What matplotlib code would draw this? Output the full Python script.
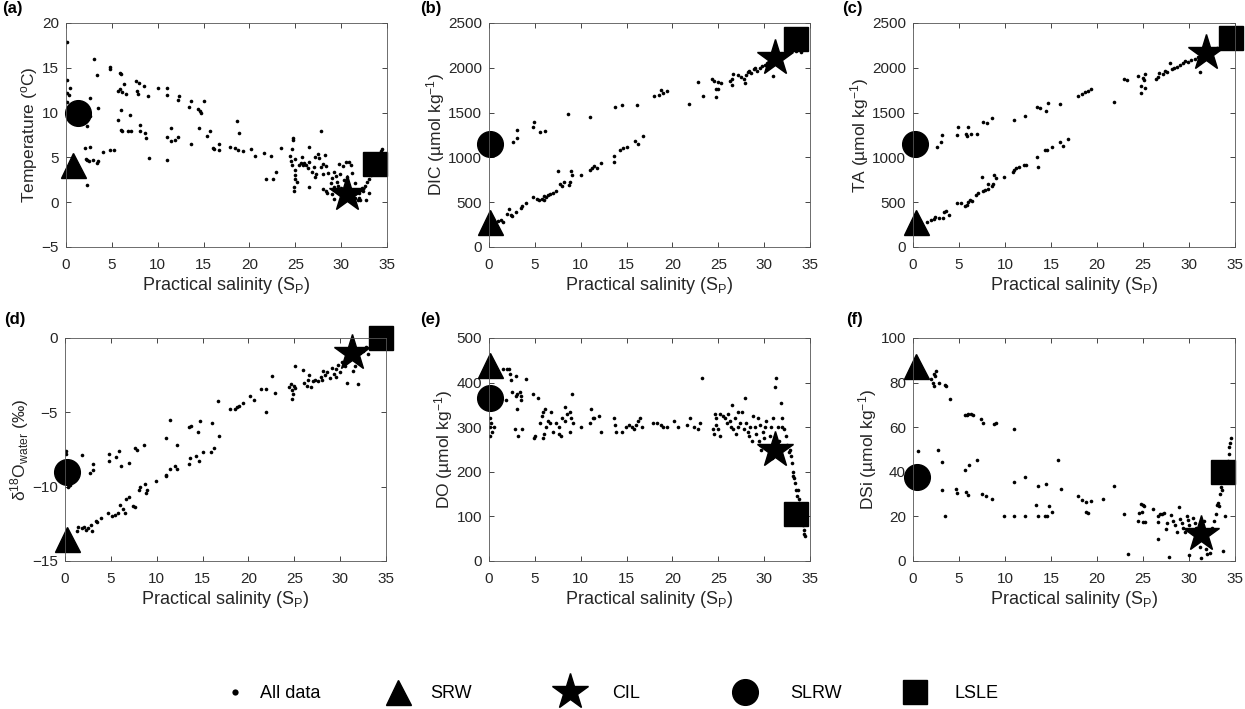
import numpy as np
import matplotlib
matplotlib.use("Agg")
import matplotlib.pyplot as plt
from matplotlib.lines import Line2D

plt.rcParams['font.family'] = ['Liberation Sans', 'DejaVu Sans']
plt.rcParams['mathtext.fontset'] = 'custom'
plt.rcParams['mathtext.rm'] = 'Liberation Sans'
plt.rcParams['mathtext.it'] = 'Liberation Sans:italic'

# ---------------- data ----------------
# (a) temperature
temp_s = [0.1, 0.1, 0.1, 0.1, 0.2, 0.1, 0.1, 0.4, 0.3, 2.6, 3.0, 3.4, 3.5, 2.6, 2.3,
          2.1, 2.6, 2.3, 2.5, 2.2, 2.9, 3.5, 3.4, 2.3, 4.0, 4.8, 5.2, 4.8, 4.8,
          5.7, 5.9, 6.0, 5.9, 6.1, 6.3, 6.5, 5.7, 6.0, 6.0, 6.1, 6.8, 7.1, 7.0,
          7.6, 7.7, 7.8, 8.0, 8.5, 8.9, 8.1, 8.1, 8.6, 8.7, 9.0,
          10.0, 11.0, 11.0, 11.0, 11.0, 11.4, 11.5, 11.9, 12.2, 12.3, 12.2,
          13.4, 13.6, 13.6, 14.4, 14.6, 14.7, 15.0, 14.5, 15.4, 15.7,
          16.0, 16.1, 16.7, 16.7, 17.9, 18.4, 18.6, 18.9, 18.7, 19.3, 20.2, 20.6,
          21.6, 22.3, 21.8, 22.6, 22.9, 23.4,
          24.4, 24.5, 24.7, 24.8, 24.6, 24.6, 25.0, 25.0, 25.0, 24.9, 24.9, 25.0, 25.2,
          25.4, 25.6, 25.8, 26.0, 26.2, 26.5, 25.7, 26.5, 26.4, 26.5, 26.8, 27.0, 27.1,
          27.2, 27.3, 27.5, 27.6, 27.8, 28.0, 27.8, 28.2, 28.0, 28.3, 28.3, 28.0, 28.5,
          28.6, 28.9, 29.0, 29.2, 29.2, 29.4, 29.6, 29.8, 29.9, 29.2, 29.0, 29.5, 29.7,
          30.0, 30.2, 30.5, 30.9, 31.1, 30.3, 30.6, 31.2, 31.5, 31.5, 31.8, 31.7, 32.0,
          32.3, 32.0, 32.4, 32.6, 32.8, 33.0, 33.3, 33.5, 33.8, 34.1, 34.4, 34.5, 33.0,
          32.7, 32.1]
temp_v = [17.9, 13.6, 12.2, 11.2, 10.5, 10.0, 9.8, 12.7, 12.0, 11.6, 16.0, 14.2, 10.5, 9.6, 8.5,
          6.0, 6.2, 4.7, 4.6, 4.8, 4.7, 4.6, 4.4, 1.9, 5.6, 5.8, 5.8, 14.9, 15.1,
          12.4, 14.4, 14.3, 12.6, 12.3, 13.2, 12.1, 9.2, 10.3, 8.1, 8.0, 8.0, 7.9, 9.7,
          13.5, 12.4, 12.1, 13.3, 13.0, 11.9, 8.6, 7.9, 7.7, 7.2, 4.9,
          12.8, 12.7, 12.0, 7.3, 4.7, 8.3, 6.8, 6.9, 7.3, 11.8, 11.4,
          10.6, 11.3, 6.5, 10.4, 10.2, 10.0, 11.3, 8.3, 7.4, 7.9,
          6.1, 5.9, 6.5, 5.8, 6.2, 6.1, 9.1, 7.7, 5.8, 5.7, 5.9, 5.2,
          5.5, 5.2, 2.6, 2.6, 3.4, 6.0,
          5.2, 4.6, 7.2, 6.9, 5.9, 4.1, 4.8, 3.6, 2.6, 1.7, 1.3, 3.0, 2.2,
          4.2, 4.4, 4.2, 4.4, 4.2, 4.5, 5.1, 6.2, 3.8, 1.7, 3.4, 3.9, 5.0,
          2.8, 3.2, 5.4, 4.9, 3.9, 4.3, 7.9, 5.3, 3.2, 4.0, 1.2, 1.5, 1.0,
          3.3, 2.1, 2.7, 3.4, 1.7, 2.9, 2.3, 4.3, 3.1, 0.4, 0.9, 1.4, 1.8,
          1.6, 4.0, 4.5, 4.5, 4.2, 2.5, 2.8, 3.3, 2.1, 0.5, 0.3, 1.2, 1.0,
          1.6, 0.5, 1.3, 1.8, 2.2, 2.6, 3.0, 3.8, 4.5, 5.2, 5.7, 5.9, 1.0,
          0.3, 0.2]

# (b) DIC
dic_s = [0.5, 1.0, 1.3, 1.5, 2.0, 2.2, 2.4, 2.5, 2.9, 3.5, 3.6, 4.0, 4.8, 5.2, 5.5, 5.8,
         6.0, 6.0, 6.2, 6.4, 6.7, 7.0, 7.3, 7.5, 7.7, 8.0, 8.2, 8.7, 8.8, 8.9, 9.0, 10.0,
         11.0, 11.2, 11.5, 11.8, 12.2, 13.6, 13.6, 14.3, 14.6, 15.0, 15.9, 16.2, 16.8,
         2.6, 3.0, 3.1, 4.8, 4.9, 5.6, 6.1, 8.6, 11.0, 13.7, 14.5, 16.1, 18.0, 18.5, 18.8,
         19.0, 19.4, 21.8, 22.8, 23.3, 24.3, 24.5, 24.7, 24.8, 25.0, 25.0, 25.3, 26.3, 26.5,
         26.6, 26.5, 27.2, 27.5, 27.8, 28.0, 27.9, 28.2, 28.4, 28.6, 28.9, 29.2, 29.5, 29.8,
         30.1, 30.3, 30.6, 31.0, 31.5, 32.0, 32.5, 33.0, 33.5, 34.0, 34.3, 29.0, 30.5]
dic_v = [280, 290, 300, 280, 370, 420, 360, 350, 390, 430, 460, 490, 560, 540, 530, 540,
         530, 570, 560, 580, 590, 600, 630, 850, 700, 680, 720, 690, 720, 850, 800, 800,
         860, 880, 900, 880, 940, 1020, 950, 1080, 1100, 1120, 1180, 1150, 1240,
         1170, 1220, 1310, 1340, 1400, 1280, 1290, 1480, 1450, 1560, 1590, 1590, 1680, 1700, 1750,
         1720, 1740, 1600, 1840, 1690, 1880, 1850, 1760, 1670, 1760, 1840, 1830, 1850, 1810,
         1930, 1870, 1920, 1900, 1870, 1920, 1830, 1950, 1960, 1940, 1990, 1960, 2000, 2020,
         2030, 2050, 2060, 1910, 2100, 2120, 2160, 2200, 2190, 2180, 2240, 2000, 2010]

# (c) TA
ta_s = [1.5, 2.0, 2.3, 2.4, 2.8, 3.3, 3.4, 3.6, 3.9, 4.8, 5.2, 5.7, 5.9, 6.0, 6.2, 6.4,
        6.8, 7.1, 7.5, 7.6, 7.8, 8.1, 8.2, 8.6, 8.7, 8.8, 9.0, 9.9, 10.9, 11.0, 11.2, 11.5,
        12.1, 12.3, 13.5, 13.6, 14.4, 14.6, 15.1, 16.0, 16.3, 16.8,
        2.6, 3.0, 3.1, 4.8, 4.9, 5.8, 5.9, 6.0, 6.3, 7.0, 7.6, 8.0, 8.6, 11.0, 12.2, 13.5,
        13.8, 14.5, 14.7, 16.0, 17.9, 18.4, 18.7, 19.0, 19.4, 21.9, 22.9, 23.3, 24.5, 24.8,
        24.8, 25.0, 25.1, 25.2, 25.2, 26.4, 26.6, 26.7, 27.2, 27.4, 27.6, 27.9, 28.1, 28.4,
        28.7, 29.0, 29.3, 29.6, 29.9, 30.2, 30.6, 31.0, 31.2, 31.5, 32.5, 33.0, 33.7]
ta_v = [280, 300, 310, 340, 320, 320, 390, 400, 360, 490, 490, 460, 470, 500, 520, 510,
        580, 600, 780, 630, 640, 700, 650, 680, 700, 800, 770, 780, 840, 860, 880, 890,
        920, 920, 1010, 890, 1080, 1080, 1120, 1170, 1130, 1200,
        1120, 1170, 1250, 1250, 1340, 1260, 1240, 1340, 1260, 1260, 1390, 1380, 1440, 1420, 1460, 1560,
        1550, 1520, 1610, 1600, 1690, 1710, 1730, 1740, 1760, 1620, 1880, 1860, 1910, 1800,
        1720, 1890, 1860, 1930, 1780, 1870, 1900, 1940, 1930, 1960, 1950, 2050, 1990, 2000,
        2010, 2030, 2050, 2080, 2060, 2090, 2100, 2120, 1950, 2150, 2190, 2220, 2250]

# (d) d18O
d18o_s = [0.1, 0.1, 0.5, 0.3,
          1.9, 2.7, 3.0, 3.1, 4.8, 4.8, 5.6, 5.9, 6.1, 7.0, 7.6, 7.9, 8.6, 11.0, 11.4, 12.2,
          13.5, 13.7, 14.5, 14.7, 16.0, 16.7, 16.8, 18.0, 18.5, 18.8, 19.0, 19.4, 20.2, 20.6,
          21.4, 21.9, 21.9, 22.6, 22.9, 24.4, 24.6, 24.7, 24.8, 24.9, 25.0, 25.1, 25.1, 25.9,
          26.1, 26.4, 26.5, 26.6, 26.8, 27.0, 27.3, 27.6, 27.9, 28.1, 28.3, 28.6, 28.9, 29.1,
          29.3, 29.5, 29.8, 30.0, 30.2, 30.5, 30.8, 30.9, 31.4, 31.6, 31.8, 32.0, 32.2, 32.5,
          33.0, 32.8, 33.4, 33.8, 34.2, 29.5, 28.0,
          1.3, 1.4, 1.9, 2.1, 2.3, 2.5, 2.8, 2.9, 3.4, 3.5, 3.9, 4.7, 5.1, 5.5, 5.8, 6.0,
          6.3, 6.5, 6.7, 7.0, 7.4, 7.6, 8.1, 8.2, 8.7, 8.8, 8.9, 9.9, 11.0, 11.0, 11.5, 12.0,
          12.2, 13.5, 13.6, 14.3, 14.6, 15.1, 15.9, 16.3]
d18o_v = [-7.6, -7.8, -9.9, -10.0,
          -7.9, -9.1, -8.9, -8.5, -8.3, -7.8, -8.0, -7.6, -8.6, -8.4, -7.4, -7.5, -7.2, -6.7, -5.5, -7.2,
          -6.0, -5.95, -6.3, -5.55, -5.7, -4.25, -6.6, -4.8, -4.8, -4.65, -4.55, -4.35, -3.9, -4.2,
          -3.4, -4.95, -3.45, -2.55, -3.7, -3.3, -3.1, -3.5, -4.1, -3.8, -3.2, -1.9, -3.35, -2.15,
          -3.0, -3.2, -2.8, -2.5, -3.3, -2.9, -2.8, -2.9, -2.6, -2.2, -2.5, -2.3, -2.7, -2.0,
          -2.4, -2.1, -1.8, -2.3, -1.6, -1.9, -3.05, -1.5, -2.2, -1.9, -1.3, -3.1, -1.0, -0.9,
          -1.1, -0.6, -0.4, -0.3, -0.2, -2.6, -2.8,
          -13.0, -12.7, -12.8, -12.7, -12.9, -12.8, -12.6, -13.0, -12.3, -12.4, -12.1, -11.8, -12.0, -11.9, -11.8, -11.2,
          -11.5, -11.8, -10.8, -10.7, -11.3, -11.4, -10.2, -10.0, -9.8, -10.4, -10.2, -9.6, -9.2, -9.3, -8.8, -8.6,
          -8.8, -8.5, -8.1, -7.95, -8.25, -7.7, -7.7, -7.4]

# (e) DO
do_s = [0.1, 0.1, 0.2, 0.1, 0.3, 0.5, 1.5, 1.8, 2.0, 2.2, 2.3, 2.4, 2.5, 2.9, 2.9, 2.8,
        3.0, 3.1, 3.2, 3.4, 3.5, 3.5, 3.6, 4.0, 4.8, 4.9, 5.0, 5.3, 5.6, 5.9, 5.8, 5.9,
        6.0, 6.1, 6.2, 6.4, 6.6, 6.8, 7.0, 7.3, 7.6, 7.6, 7.9, 8.0, 8.3, 8.3, 8.5, 8.8,
        8.9, 8.8, 9.1, 9.2, 10.0, 11.0, 11.1, 11.3, 11.5, 12.0, 12.2, 13.6, 13.7, 13.8,
        14.5, 14.9, 15.3, 15.6, 15.8, 16.0, 16.2, 16.5, 16.7, 17.9, 18.3, 18.7, 19.0, 19.4,
        20.2, 20.6, 21.6, 21.9, 22.3, 22.8, 23.2, 23.0,
        24.4, 24.5, 24.6, 24.7, 24.8, 25.0, 25.2, 25.2, 25.5, 25.7, 25.9, 26.1, 26.3, 26.5,
        26.4, 26.6, 26.8, 26.9, 27.1, 27.2, 27.4, 27.6, 27.8, 27.9, 28.0, 28.2, 28.3, 28.5,
        28.7, 28.8, 29.0, 29.1, 29.3, 29.5, 29.4, 29.6, 29.7, 29.9, 30.0, 30.1, 30.2, 30.4,
        30.5, 30.6, 30.8, 30.9, 31.0, 31.2, 31.3, 31.5, 31.6, 31.8, 31.9, 32.0, 32.2, 32.4,
        32.5, 32.7, 32.9, 33.0, 33.1, 33.2, 33.4, 33.5, 33.6, 33.8, 33.9, 34.0, 34.1, 34.2,
        34.3, 34.4, 34.5, 33.3, 33.7, 32.8, 33.8]
do_v = [280, 300, 310, 320, 290, 300, 430, 360, 430, 430, 420, 405, 380, 415, 370, 295,
        375, 340, 280, 380, 360, 370, 295, 408, 375, 275, 280, 365, 310, 335, 325, 275,
        285, 340, 300, 315, 310, 335, 290, 310, 300, 285, 280, 320, 345, 315, 330, 335,
        320, 290, 375, 310, 300, 310, 340, 320, 320, 325, 290, 320, 305, 290,
        290, 300, 305, 300, 295, 305, 315, 320, 300, 310, 310, 305, 300, 300,
        315, 300, 305, 320, 300, 295, 410, 310,
        295, 285, 330, 320, 305, 295, 280, 330, 325, 320, 310, 330, 315, 350,
        300, 295, 320, 285, 300, 335, 310, 335, 295, 365, 310, 290, 280, 300,
        270, 325, 300, 285, 320, 305, 270, 260, 250, 290, 275, 300, 315, 255,
        240, 280, 300, 230, 320, 390, 410, 300, 270, 355, 300, 320, 295, 280,
        260, 245, 235, 220, 200, 190, 175, 160, 145, 130, 115, 100, 90, 80,
        70, 60, 55, 185, 160, 250, 140]

# (f) DSi
dsi_s = [0.5, 2.0, 2.2, 2.3, 2.3, 2.5, 2.4, 2.8, 3.5, 3.6, 4.0, 2.7, 3.1, 3.1, 3.5, 4.7,
         4.8, 5.6, 5.7, 5.9, 6.0, 6.3, 6.5, 5.8, 6.0, 6.1, 7.0, 7.4, 7.6, 7.5, 7.9, 8.6,
         8.8, 9.0, 9.9, 11.0, 11.0, 11.0, 12.2, 12.2, 13.4, 13.6, 13.6, 14.4, 14.6, 14.5,
         14.8, 15.1, 15.8, 16.1, 17.9, 18.4, 18.8, 18.8, 19.0, 19.4, 20.6, 21.8, 22.9, 23.4,
         24.5, 24.6, 24.8, 24.9, 25.0, 25.0, 25.2, 25.1, 26.1, 26.6, 26.6, 26.6, 26.9, 27.1,
         27.3, 27.6, 27.5, 27.8, 28.0, 28.3, 28.5, 28.7, 28.9, 29.0, 29.2, 29.4, 29.6, 29.8,
         29.9, 30.0, 30.0, 30.2, 30.4, 30.6, 30.8, 31.0, 31.2, 31.3, 31.6, 31.8, 32.0, 32.3,
         32.5, 32.7, 32.9, 33.0, 33.2, 33.4, 33.5, 33.6, 33.8, 33.9, 34.0, 34.2, 34.3, 34.4,
         34.5, 34.6, 33.7, 33.3]
dsi_v = [49.5, 81.5, 80, 78.5, 84, 85, 83, 80, 79, 78.5, 72.5, 50, 44.5, 32, 20, 32.5,
         30.5, 41, 65.5, 65.5, 66, 66, 65.5, 31, 29.5, 43, 45.5, 63.5, 62, 30, 29, 28,
         61.5, 62, 20, 20, 35.5, 59, 20, 37.5, 25, 20, 33.5, 20, 20, 34.5,
         24.5, 22, 45.5, 32.5, 29, 27.5, 26.5, 22, 21.5, 27, 28, 33.5, 21, 3,
         18, 21.5, 25.5, 22, 25, 17.5, 17.5, 24.5, 23.5, 20, 17.5, 10, 21, 21,
         21.5, 17, 14.5, 2, 20.5, 18, 16, 13, 24, 19, 17, 15, 13, 20,
         18.5, 16, 2.5, 14, 19.5, 17, 15, 12, 6.5, 1.5, 18, 5.5, 3, 3.5,
         15, 18, 21, 25, 26, 30, 33, 32, 36, 20, 40, 45, 48, 51,
         53, 55, 4.5, 24.5]

# end-member values: SRW, CIL, SLRW, LSLE  (salinity, value) for panels a-f
srw_s = [0.8, 0.1, 0.36, 0.2, 0.1, 0.36]
srw_v = [4.2, 280, 280, -13.5, 440, 87.5]
cil_s = [30.65, 31.2, 31.85, 31.26, 31.2, 31.3]
cil_v = [0.95, 2110, 2170, -1.0, 250, 12.1]
slrw_s = [1.3, 0.1, 0.2, 0.2, 0.1, 0.45]
slrw_v = [9.9, 1150, 1150, -9.0, 365, 37.8]
lsle_s = [33.7, 33.5, 34.6, 34.5, 33.5, 33.7]
lsle_v = [4.3, 2325, 2336, 0.0, 105, 40.0]

panels = [
    ("(a)", temp_s, temp_v, r"Temperature ($\mathregular{^{o}}$C)", (-5, 20), 5),
    ("(b)", dic_s, dic_v, r"DIC (µmol kg$\mathregular{^{-1}}$)", (0, 2500), 500),
    ("(c)", ta_s, ta_v, r"TA (µmol kg$\mathregular{^{-1}}$)", (0, 2500), 500),
    ("(d)", d18o_s, d18o_v, r"δ$\mathregular{^{18}}$O$\mathregular{_{water}}$ (‰)", (-15, 0), 5),
    ("(e)", do_s, do_v, r"DO (µmol kg$\mathregular{^{-1}}$)", (0, 500), 100),
    ("(f)", dsi_s, dsi_v, r"DSi (µmol kg$\mathregular{^{-1}}$)", (0, 100), 20),
]

W, H = 1245, 709
# axes boxes in pixels: left, top, right, bottom
boxes = [(66, 23, 387, 247), (489, 23, 810, 247), (913, 23, 1235, 247),
         (65, 338, 386, 561), (489, 338, 810, 561), (913, 338, 1235, 561)]
letter_pos = [(2, 1), (420, 1), (842, 1), (4, 312), (420, 312), (846, 312)]

fig = plt.figure(figsize=(W / 100, H / 100), dpi=100)
edge = '#262626'

for i, (lab, xs, ys, ylab, ylim, ystep) in enumerate(panels):
    l, t, r, b = boxes[i]
    ax = fig.add_axes([l / W, 1 - b / H, (r - l) / W, (b - t) / H])
    ax.plot(xs, ys, 'o', color='k', ms=2.6, mec='none', ls='none')
    ax.plot(srw_s[i], srw_v[i], '^', color='k', ms=18, clip_on=False)
    ax.plot(cil_s[i], cil_v[i], '*', color='k', ms=27, clip_on=False)
    ax.plot(slrw_s[i], slrw_v[i], 'o', color='k', ms=18.5, clip_on=False)
    ax.plot(lsle_s[i], lsle_v[i], 's', color='k', ms=17, clip_on=False)
    ax.set_xlim(0, 35)
    ax.set_ylim(*ylim)
    ax.set_xticks(np.arange(0, 36, 5))
    ax.set_yticks(np.arange(ylim[0], ylim[1] + 1, ystep))
    ax.tick_params(direction='in', top=True, right=True, length=3.5, width=0.6,
                   labelsize=11, colors=edge)
    ax.tick_params(axis='x', pad=8)
    ax.tick_params(axis='y', pad=5)
    for sp in ax.spines.values():
        sp.set_color('#555555')
        sp.set_linewidth(0.6)
    ax.set_xlabel(r"Practical salinity (S$\mathregular{_P}$)", fontsize=13, color=edge, labelpad=2)
    ax.set_ylabel(ylab, fontsize=12.5, color=edge, labelpad=1)
    fig.text(letter_pos[i][0] / W, 1 - letter_pos[i][1] / H, lab, fontsize=12,
             fontweight='bold', va='top', ha='left')

# legend: one entry per box so the spacing is fixed like the original
handles = [
    Line2D([], [], marker='o', color='k', ls='none', ms=4.5, mec='none'),
    Line2D([], [], marker='^', color='k', ls='none', ms=18),
    Line2D([], [], marker='*', color='k', ls='none', ms=27),
    Line2D([], [], marker='o', color='k', ls='none', ms=18.5),
    Line2D([], [], marker='s', color='k', ls='none', ms=17),
]
names = ["All data", "SRW", "CIL", "SLRW", "LSLE"]
leg_x = [235, 398, 570, 745, 915]      # marker centres, px
text_gap = [25, 32, 42, 45, 40]        # marker centre to text start, px
leg_fs = 13
fs_px = leg_fs * 100 / 72
hl = 2.0
for h, n, x, g in zip(handles, names, leg_x, text_gap):
    left = x - hl * fs_px / 2
    pad = (g - hl * fs_px / 2) / fs_px
    fig.legend([h], [n], loc='center left', bbox_to_anchor=(left / W, 1 - 694 / H),
               frameon=False, fontsize=leg_fs, handlelength=hl, handletextpad=pad,
               borderpad=0, borderaxespad=0)

fig.savefig("out.png", dpi=100)
